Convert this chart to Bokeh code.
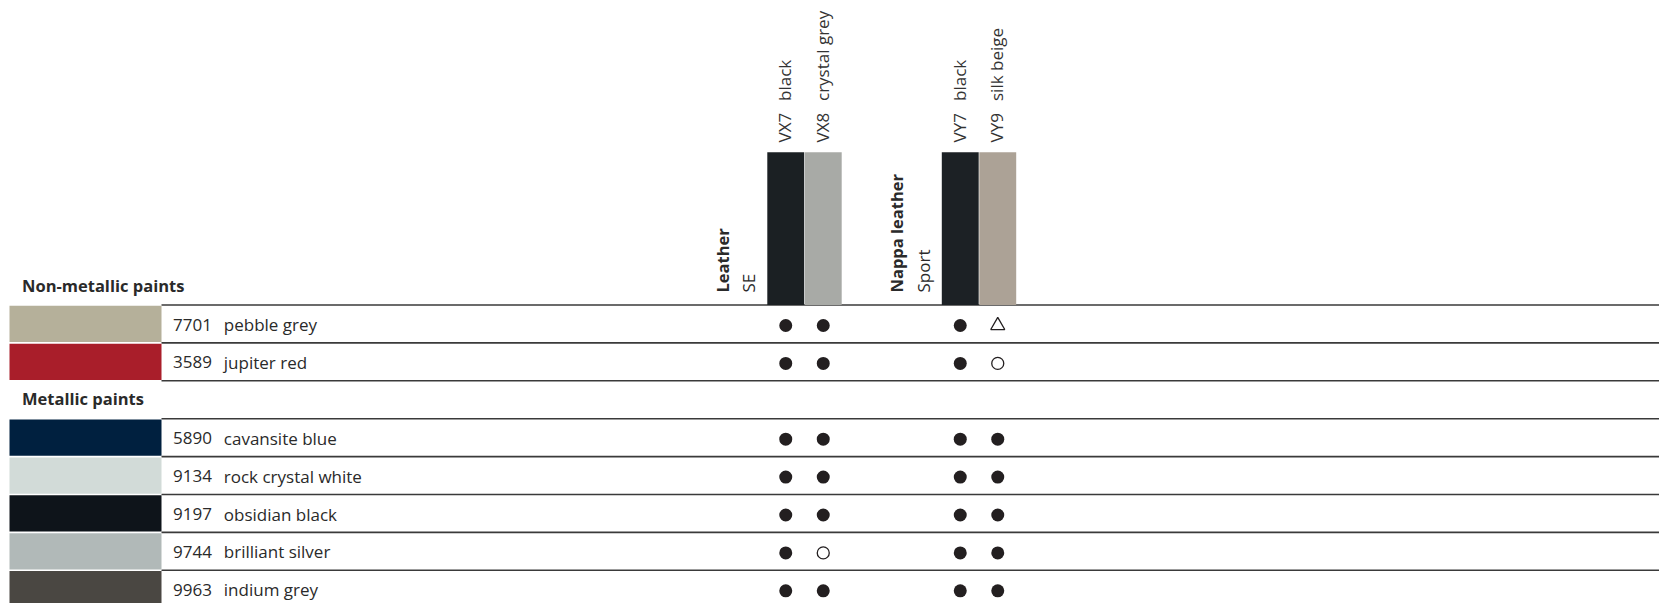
import math
from bokeh.plotting import figure
from bokeh.models import Range1d
from bokeh.embed import file_html
from bokeh.resources import INLINE
from bokeh.core.properties import value

# ---------------- data ----------------
paint_groups = ["Non-metallic paints", "Metallic paints"]
paint_group = [0, 0, 1, 1, 1, 1, 1]
paint_codes = ["7701", "3589", "5890", "9134", "9197", "9744", "9963"]
paint_names = ["pebble grey", "jupiter red", "cavansite blue", "rock crystal white",
               "obsidian black", "brilliant silver", "indium grey"]
paint_colors = ["#b5b09a", "#a91e2a", "#00203f", "#d2dbd8", "#0e141a", "#b1b9b8", "#4a4742"]

uph_groups = ["Leather", "Nappa leather"]
uph_group_sub = ["SE", "Sport"]
uph_group = [0, 0, 1, 1]
uph_codes = ["VX7", "VX8", "VY7", "VY9"]
uph_names = ["black", "crystal grey", "black", "silk beige"]
uph_colors = ["#1b2023", "#a8aaa6", "#1c2125", "#aca296"]

# availability: "s" = filled dot, "o" = open circle, "t" = open triangle
availability = [
    ["s", "s", "s", "t"],
    ["s", "s", "s", "o"],
    ["s", "s", "s", "s"],
    ["s", "s", "s", "s"],
    ["s", "s", "s", "s"],
    ["s", "o", "s", "s"],
    ["s", "s", "s", "s"],
]

# ---------------- layout ----------------
W, H = 1659, 603
X0, Y0 = 0, 0
ROW_H = 37.9
SLOT0_TOP = 304.5
SW_X0, SW_X1 = 9, 161
LINE_X1 = X0 + W
GROUP_START = [766.5, 941.0]
CELL_W = 37.5
SWATCH_TOP = 151.7
COLHDR_BASE = 142.0
TEXT_COL = "#2a2a2a"
FONT = "Open Sans"
FIX = 7.5        # baseline correction for the svg text renderer
FIX_B = 9.0      # for the bold headings

def sy(y):  # screen y -> data y
    return -y

p = figure(width=W, height=H, output_backend="svg", toolbar_location=None,
           x_range=Range1d(X0, X0 + W), y_range=Range1d(-(Y0 + H), -Y0),
           min_border=0, outline_line_color=None)
p.axis.visible = False
p.grid.visible = False
p.background_fill_color = "white"
p.border_fill_color = "white"

# slot assignment
slots_rows = []
header_slots = []
slot = -1
for g, name in enumerate(paint_groups):
    header_slots.append(slot)
    slot += 1
    for i, pg in enumerate(paint_group):
        if pg == g:
            slots_rows.append(slot)
            slot += 1
last_slot = slot - 1

def top(s):
    return SLOT0_TOP + s * ROW_H

# horizontal lines
line_ys = [top(s) for s in range(0, last_slot + 2)]
p.segment(x0=[SW_X1] * len(line_ys), x1=[LINE_X1] * len(line_ys),
          y0=[sy(y) for y in line_ys], y1=[sy(y) for y in line_ys],
          line_color="#3a3a3a", line_width=1.6)

# paint swatches
p.quad(left=[SW_X0] * len(paint_codes), right=[SW_X1] * len(paint_codes),
       top=[sy(top(s) + 0.8) for s in slots_rows],
       bottom=[sy(top(s) + ROW_H - 0.8) for s in slots_rows],
       fill_color=paint_colors, line_color=None)

# group headers
p.text(x=[21.5] * len(paint_groups), y=[sy(top(s) + 27.0 - FIX_B) for s in header_slots],
       text=paint_groups, text_font=value(FONT), text_font_style="bold",
       text_font_size="16.5px", text_color=TEXT_COL, text_baseline="alphabetic")

# row labels
p.text(x=[172.5] * len(paint_codes), y=[sy(top(s) + 27.0 - FIX) for s in slots_rows],
       text=paint_codes, text_font=value(FONT), text_font_size="17px",
       text_color=TEXT_COL, text_baseline="alphabetic")
p.text(x=[223.3] * len(paint_codes), y=[sy(top(s) + 27.0 - FIX) for s in slots_rows],
       text=paint_names, text_font=value(FONT), text_font_size="17px",
       text_color=TEXT_COL, text_baseline="alphabetic")

# upholstery columns
col_left = []
k_in_group = {}
for j, g in enumerate(uph_group):
    k = k_in_group.get(g, 0)
    k_in_group[g] = k + 1
    col_left.append(GROUP_START[g] + k * CELL_W)
col_center = [c + CELL_W / 2 for c in col_left]

p.quad(left=[c + 0.3 for c in col_left], right=[c + CELL_W - 0.3 for c in col_left],
       top=[sy(SWATCH_TOP)] * len(col_left), bottom=[sy(top(0))] * len(col_left),
       fill_color=uph_colors, line_color=None)

p.text(x=[c + 6.5 - FIX for c in col_center], y=[sy(COLHDR_BASE)] * len(col_center),
       text=uph_codes, angle=math.pi / 2, text_font=value(FONT), text_font_size="17px",
       text_color="#333333", text_baseline="alphabetic", text_align="left")
p.text(x=[c + 6.5 - FIX for c in col_center], y=[sy(COLHDR_BASE - 41.5)] * len(col_center),
       text=uph_names, angle=math.pi / 2, text_font=value(FONT), text_font_size="17px",
       text_color="#333333", text_baseline="alphabetic", text_align="left")

# upholstery group labels
p.text(x=[GROUP_START[g] - 36.0 - FIX_B for g in range(len(uph_groups))],
       y=[sy(292.0)] * len(uph_groups), text=uph_groups, angle=math.pi / 2,
       text_font=value(FONT), text_font_style="bold", text_font_size="16.5px",
       text_color=TEXT_COL, text_baseline="alphabetic", text_align="left")
p.text(x=[GROUP_START[g] - 11.0 - FIX for g in range(len(uph_groups))],
       y=[sy(292.0)] * len(uph_groups), text=uph_group_sub, angle=math.pi / 2,
       text_font=value(FONT), text_font_size="17px",
       text_color=TEXT_COL, text_baseline="alphabetic", text_align="left")

# availability symbols
sx = {"s": [], "o": [], "t": []}
syy = {"s": [], "o": [], "t": []}
for r, srow in enumerate(slots_rows):
    for j, a in enumerate(availability[r]):
        sx[a].append(col_center[j])
        syy[a].append(sy(top(srow) + 20.5))

p.scatter(x=sx["s"], y=syy["s"], marker="circle", size=13,
          fill_color="#231f20", line_color=None)
p.scatter(x=sx["o"], y=syy["o"], marker="circle", size=12,
          fill_color="white", line_color="#231f20", line_width=1.3)
p.scatter(x=sx["t"], y=syy["t"], marker="triangle", size=14,
          fill_color="white", line_color="#231f20", line_width=1.3)

open("out.html", "w").write(file_html(p, INLINE))
